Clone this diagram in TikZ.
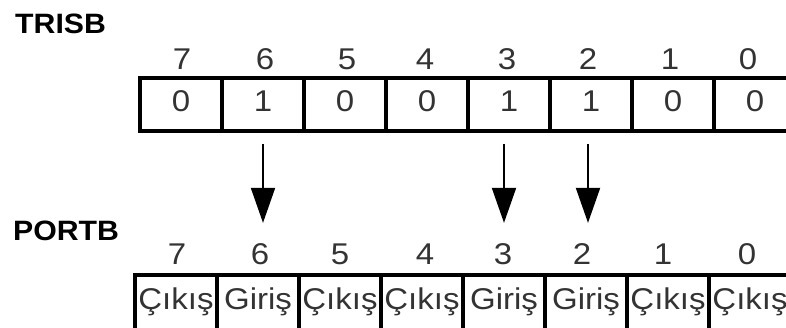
\documentclass[tikz,border=0pt]{standalone}
\usepackage{fontspec}
\setmainfont{Liberation Sans}
\newfontfamily\regfont{Liberation Sans}[FakeStretch=1.1]
\newfontfamily\namefont{Liberation Sans}[FakeStretch=1.08]
\usepackage{tikz}
\usetikzlibrary{arrows.meta}

\begin{document}
\begin{tikzpicture}[
    x=1pt, y=-1pt,
    regname/.style={anchor=base west, inner sep=0pt, font=\namefont\bfseries\fontsize{28}{32}\selectfont},
    bitno/.style={anchor=base, inner sep=0pt, text=black!80, font=\regfont\fontsize{30}{34}\selectfont},
    trisbit/.style={draw, line width=3.5pt, minimum width=82pt, minimum height=53pt, inner sep=0pt,
        text height=21.5pt, text depth=8.5pt, text=black!80, font=\regfont\fontsize{30}{34}\selectfont},
    portbit/.style={draw, line width=3.5pt, anchor=north, minimum width=82pt, minimum height=72pt, inner sep=0pt,
        text height=21pt, text depth=23pt, text=black!80, font=\regfont\fontsize{30}{34}\selectfont},
    arrow/.style={-{Triangle[length=35pt, width=24pt]}, line width=2pt}
]
\useasboundingbox (0,0) rectangle (786,327);

% Register names
\node[regname] (trisb) at (15,33) {TRISB};
\node[regname] (portb) at (13,240) {PORTB};

% TRISB bit numbers
\node[bitno] (tb7) at (182,69) {7};
\node[bitno] (tb6) at (265,69) {6};
\node[bitno] (tb5) at (347,69) {5};
\node[bitno] (tb4) at (425,69) {4};
\node[bitno] (tb3) at (507,69) {3};
\node[bitno] (tb2) at (588,69) {2};
\node[bitno] (tb1) at (670,69) {1};
\node[bitno] (tb0) at (748,69) {0};

% TRISB cells
\node[trisbit] (t7) at (181,104.5) {0};
\node[trisbit] (t6) at (263,104.5) {1};
\node[trisbit] (t5) at (345,104.5) {0};
\node[trisbit] (t4) at (427,104.5) {0};
\node[trisbit] (t3) at (509,104.5) {1};
\node[trisbit] (t2) at (591,104.5) {1};
\node[trisbit] (t1) at (673,104.5) {0};
\node[trisbit] (t0) at (755,104.5) {0};

% PORTB bit numbers
\node[bitno] (pb7) at (177,264) {7};
\node[bitno] (pb6) at (260,264) {6};
\node[bitno] (pb5) at (340,264) {5};
\node[bitno] (pb4) at (425,264) {4};
\node[bitno] (pb3) at (503,264) {3};
\node[bitno] (pb2) at (582,264) {2};
\node[bitno] (pb1) at (663,264) {1};
\node[bitno] (pb0) at (747,264) {0};

% PORTB cells
\node[portbit] (p7) at (176,273) {Çıkış};
\node[portbit] (p6) at (258,273) {Giriş};
\node[portbit] (p5) at (340,273) {Çıkış};
\node[portbit] (p4) at (422,273) {Çıkış};
\node[portbit] (p3) at (504,273) {Giriş};
\node[portbit] (p2) at (586,273) {Giriş};
\node[portbit] (p1) at (668,273) {Çıkış};
\node[portbit] (p0) at (750,273) {Çıkış};

% Arrows
\draw[arrow] ([yshift=-11pt]t6.south) -- ([yshift=20pt]t6.south |- pb6.north);
\draw[arrow] ([yshift=-11pt,xshift=-5pt]t3.south) -- ([xshift=-5pt,yshift=20pt]t3.south |- pb3.north);
\draw[arrow] ([yshift=-11pt,xshift=-3pt]t2.south) -- ([xshift=-3pt,yshift=20pt]t2.south |- pb2.north);

\end{tikzpicture}
\end{document}
